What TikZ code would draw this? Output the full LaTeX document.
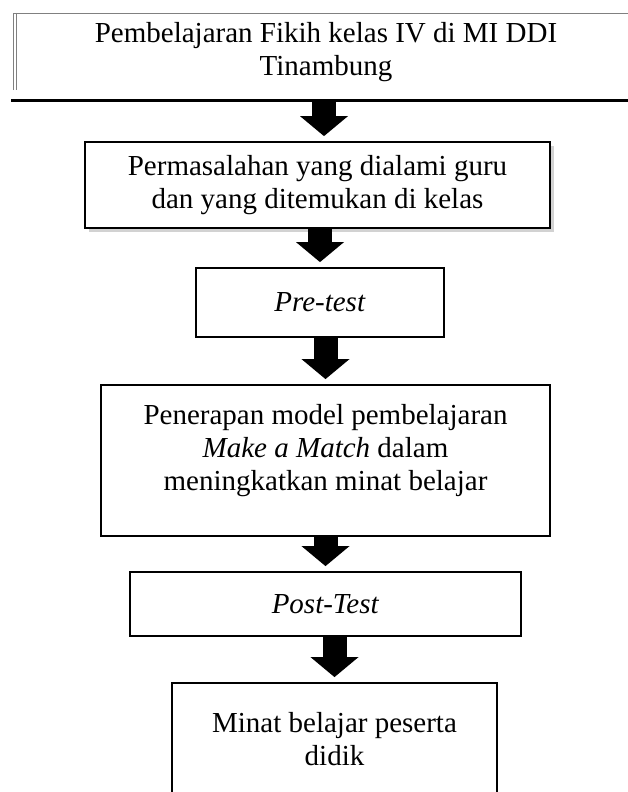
\documentclass[tikz,border=0pt]{standalone}
\usepackage{fontspec}
\setmainfont{Liberation Serif}
\usetikzlibrary{arrows.meta}
\usetikzlibrary{shadows}

\begin{document}
\begin{tikzpicture}[x=1pt,y=-1pt,
    font=\fontsize{29}{33}\selectfont,
    box/.style={draw, line width=1.8pt, fill=white, align=center, inner sep=0pt},
    fatarrow/.style={line width=24pt, -{Triangle[width=48pt,length=20pt,line width=0pt]}, shorten >=5pt}]

\useasboundingbox (0,0) rectangle (628,792);
\clip (0,0) rectangle (628,792);

% top box, cut off at the right
\draw[gray, line width=0.8pt] (13,90) -- (13,13) -- (628,13);
\draw[gray, line width=0.8pt] (16,13) -- (16,90);
\draw[line width=2.7pt] (11,100.5) -- (628,100.5);
\node[align=center] (b1) at (326,52.5) {Pembelajaran Fikih kelas IV di MI DDI\\Tinambung};
\coordinate (b1bot) at (324,101.5);

\node[box, minimum width=465pt, minimum height=86pt,
      drop shadow={shadow xshift=4pt, shadow yshift=-4pt, fill=black!35}] (b2) at (317.5,185)
      {Permasalahan yang dialami guru\\dan yang ditemukan di kelas};
\node[box, minimum width=248pt, minimum height=69pt] (b3) at (320,302.5) {\textit{Pre-test}};
\node[box, minimum width=449pt, minimum height=151pt] (b4) at (325.5,460.5)
      {Penerapan model pembelajaran\\\textit{Make a Match} dalam\\meningkatkan minat belajar\\[-6pt]\mbox{}};
\node[box, minimum width=391pt, minimum height=64pt] (b5) at (325.5,604) {\textit{Post-Test}};
\node[box, minimum width=325pt, minimum height=113pt] (b6) at (334.5,739.5) {Minat belajar peserta\\didik};

\draw[fatarrow] (b1bot) -- (b1bot |- b2.north);
\foreach \a/\b in {b2/b3,b3/b4,b4/b5,b5/b6} {
    \draw[fatarrow] (\b.north |- \a.south) -- (\b.north);
}
\end{tikzpicture}
\end{document}
